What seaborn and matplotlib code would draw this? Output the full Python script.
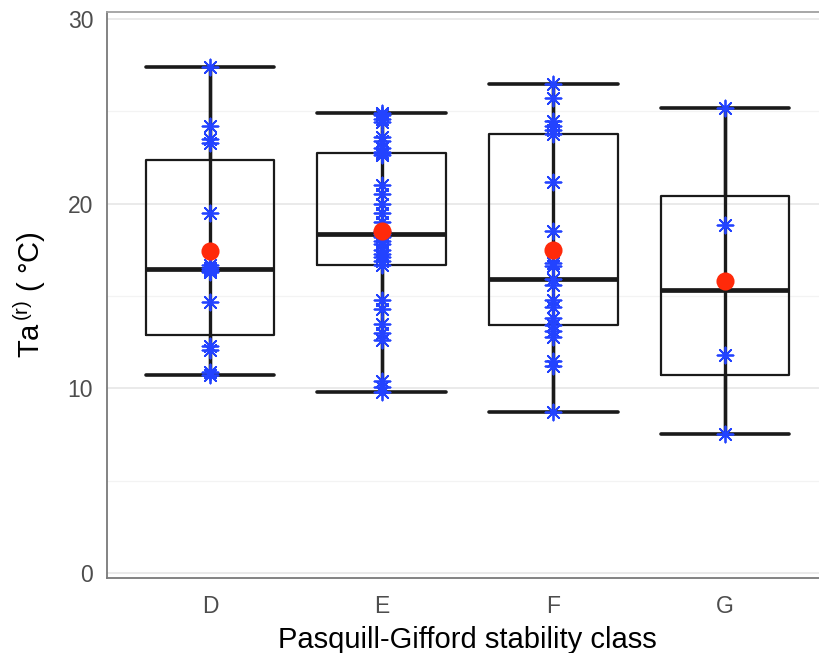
import numpy as np
import pandas as pd
import seaborn as sns
import matplotlib.pyplot as plt
from matplotlib.ticker import MultipleLocator

# ---- data ----
classes = ["D", "E", "F", "G"]
ta_D = [10.7, 10.9, 12.1, 12.3, 14.7, 16.3, 16.4, 16.5, 16.7, 19.5,
        23.3, 23.5, 24.2, 27.4]
ta_E = [9.8, 10.1, 10.4, 12.6, 13.0, 13.5, 14.3, 14.8, 16.68, 16.9,
        17.1, 17.3, 17.5, 17.8, 18.0, 18.2, 18.34, 18.5, 19.0, 19.5,
        20.0, 20.5, 21.0, 22.65, 22.72, 22.8, 23.0, 23.4, 23.6, 24.4,
        24.6, 24.8, 24.9]
ta_F = [8.73, 11.2, 11.5, 12.8, 13.1, 13.43, 13.8, 14.4, 14.8, 15.6,
        15.94, 16.6, 16.8, 18.5, 21.2, 23.77, 24.0, 24.2, 24.5, 25.7,
        26.5]
ta_G = [7.51, 11.8, 18.84, 25.16]
y_ticks = [0, 10, 20, 30]

x_title = "Pasquill-Gifford stability class"
y_title = r"Ta$^{\,(r)}$ ( °C)"

df = pd.DataFrame({
    "cls": ["D"] * len(ta_D) + ["E"] * len(ta_E) + ["F"] * len(ta_F) + ["G"] * len(ta_G),
    "ta": ta_D + ta_E + ta_F + ta_G,
})

sns.set_theme(style="white")
plt.rcParams["font.family"] = ["Liberation Sans", "DejaVu Sans"]
plt.rcParams["mathtext.fontset"] = "custom"
plt.rcParams["mathtext.rm"] = "Liberation Sans"
plt.rcParams["mathtext.it"] = "Liberation Sans"
plt.rcParams["mathtext.default"] = "regular"

W, H = 819, 653
fig = plt.figure(figsize=(W / 100, H / 100), dpi=100)
ax = fig.add_axes([107 / W, 1 - 578 / H, 721 / W, 566 / H])

# grid
ax.set_axisbelow(True)
ax.yaxis.set_minor_locator(MultipleLocator(5))
ax.grid(which="major", color="#E8E8E8", linewidth=1.3)
ax.grid(which="minor", axis="y", color="#F3F3F3", linewidth=0.9)

# boxes
sns.boxplot(data=df, x="cls", y="ta", order=classes, width=0.75, fill=False,
            color="#1A1A1A", linecolor="#1A1A1A", linewidth=1.6, whis=1.5,
            showfliers=False, capwidths=0.75,
            medianprops=dict(linewidth=3.4),
            whiskerprops=dict(linewidth=2.4),
            capprops=dict(linewidth=2.6),
            ax=ax)

# whisker line running through the box (range of data)
sns.pointplot(data=df, x="cls", y="ta", order=classes, estimator="median",
              errorbar=("pi", 100), color="#1A1A1A", linestyle="none",
              marker="", markersize=0, err_kws={"linewidth": 2.4}, ax=ax)

# observations
sns.stripplot(data=df, x="cls", y="ta", order=classes, jitter=False,
              marker=(8, 2, 0), color="#2343FF", size=11.5, linewidth=1.3,
              zorder=5, ax=ax)

# means
sns.pointplot(data=df, x="cls", y="ta", order=classes, estimator="mean",
              errorbar=None, color="#FF2A0A", linestyle="none", marker="o",
              markersize=11, zorder=10, ax=ax)

ax.set_xlim(-0.6, 3.6)
ax.set_ylim(-0.27, 30.38)
ax.set_yticks(y_ticks)

for s in ["left", "bottom"]:
    ax.spines[s].set_color("#7A7A7A")
    ax.spines[s].set_linewidth(1.3)
ax.spines["top"].set_color("#A0A0A0")
ax.spines["top"].set_linewidth(1.3)
ax.spines["right"].set_visible(False)

ax.tick_params(axis="both", which="major", length=6, width=1.2,
               color="#555555", labelsize=16.5, labelcolor="#4D4D4D")
ax.tick_params(axis="y", pad=4)
ax.tick_params(axis="x", pad=6)
ax.tick_params(which="minor", length=0)

ax.set_xlabel(x_title, fontsize=21, color="black", labelpad=6)
ax.set_ylabel(y_title, fontsize=21, color="black", labelpad=14)

fig.savefig("out.png", dpi=100)
